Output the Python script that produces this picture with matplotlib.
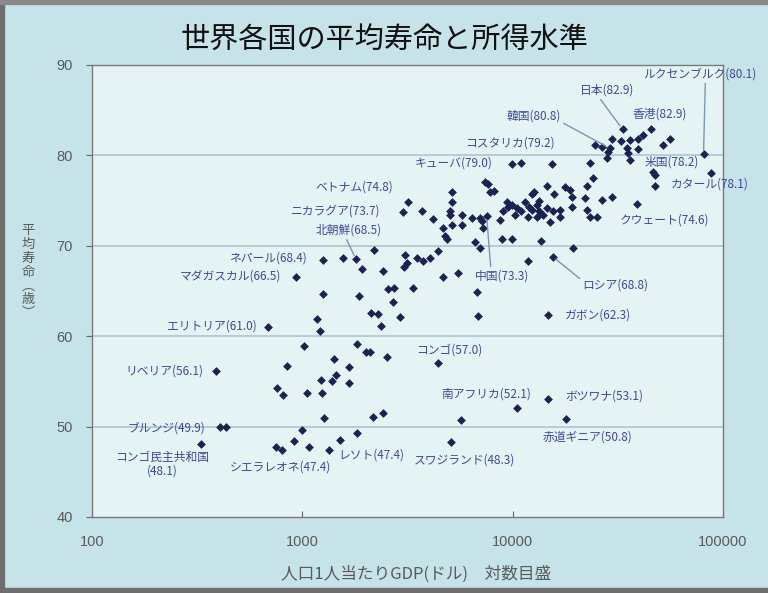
import matplotlib
matplotlib.use("Agg")
import matplotlib.pyplot as plt
from matplotlib.ticker import FixedLocator, FixedFormatter
from matplotlib.patches import Rectangle

plt.rcParams['font.family'] = ['Noto Sans CJK JP', 'DejaVu Sans']

###### Data: GDP per capita (USD) and life expectancy (years) #####
gdp = [33300, 45300, 41500, 29600, 32900, 36000, 39300, 55700, 51600, 24500,
       26500, 28900, 34800, 39300, 35200, 28000, 36000, 28300, 80800, 23200,
       15300, 46300, 47300, 88100, 47300, 24000, 22500, 14500, 17700, 18700,
       15800, 19100, 22000, 26500, 29600, 38800, 13400, 14500, 19100, 22500,
       16700, 23200, 25300, 13900, 15000, 9900, 11000, 7360, 7600, 7780,
       8130, 12700, 12400, 5130, 5130, 3170, 3000, 3700, 4170, 5020,
       5020, 5130, 4650, 4750, 4860, 5730, 5730, 6390, 6970, 7520,
       7120, 7200, 8670, 8960, 9460, 9360, 9890, 10450, 10230, 11000,
       11400, 12000, 12300, 13000, 13400, 13000, 11800, 15500, 16700, 8870,
       9890, 6600, 6970, 13700, 19300, 15500, 11800, 3070, 3130, 3500,
       3730, 4030, 4400, 5480, 4650, 3350, 6740, 6820, 2900, 14800,
       4400, 10450, 14800, 5660, 18000, 5070, 1250, 1560, 1800, 2190,
       3030, 930, 1920, 2410, 1250, 1850, 2550, 2720, 2690, 2120,
       2290, 1170, 1210, 2360, 690, 1020, 1820, 2000, 2090, 2520,
       1410, 850, 1660, 1440, 1380, 1230, 1660, 760, 810, 1050,
       1240, 390, 1270, 2160, 2410, 405, 434, 330, 1000, 1820,
       1510, 910, 750, 800, 1070, 1340]
life = [82.9, 82.9, 82.3, 81.8, 81.6, 81.7, 81.8, 81.8, 81.2, 81.1,
        80.9, 80.8, 80.8, 80.7, 80.3, 79.7, 79.5, 80.4, 80.1, 79.2,
        79.1, 78.2, 77.8, 78.1, 76.6, 77.5, 76.6, 76.6, 76.5, 76.2,
        75.7, 75.4, 75.3, 75.1, 75.4, 74.6, 74.9, 74.2, 74.3, 74.0,
        73.2, 73.2, 73.2, 73.4, 72.6, 79.0, 79.2, 77.1, 76.8, 75.9,
        76.1, 76.0, 75.7, 75.9, 74.8, 74.8, 73.7, 73.9, 73.0, 73.8,
        73.4, 72.3, 72.0, 71.1, 70.8, 73.4, 72.3, 73.1, 73.1, 73.3,
        72.7, 72.0, 72.9, 73.8, 74.3, 74.8, 74.5, 74.2, 73.4, 73.8,
        74.8, 74.3, 74.0, 74.5, 73.8, 73.2, 73.2, 73.8, 74.0, 70.7,
        70.7, 70.4, 69.8, 70.5, 69.8, 68.8, 68.3, 69.0, 68.1, 68.7,
        68.3, 68.7, 69.4, 67.0, 66.6, 65.3, 64.9, 62.2, 62.1, 62.3,
        57.0, 52.1, 53.1, 50.7, 50.8, 48.3, 68.4, 68.7, 68.5, 69.5,
        67.6, 66.5, 67.4, 67.2, 64.7, 64.5, 65.2, 65.3, 63.8, 62.6,
        62.5, 61.9, 60.6, 61.1, 61.0, 58.9, 59.1, 58.2, 58.2, 57.7,
        57.5, 56.7, 56.6, 55.7, 55.0, 55.1, 54.8, 54.3, 53.5, 53.7,
        53.7, 56.1, 51.0, 51.1, 51.5, 49.9, 49.9, 48.1, 49.6, 49.3,
        48.5, 48.4, 47.7, 47.4, 47.7, 47.4]

# labelled countries: name, gdp, life expectancy
label_names = ['ルクセンブルク', '日本', '香港', '韓国', 'コスタリカ', 'キューバ',
               '米国', 'カタール', 'クウェート', 'ベトナム', 'ニカラグア', '北朝鮮',
               'ネパール', 'マダガスカル', 'エリトリア', 'リベリア', 'ブルンジ',
               'コンゴ民主共和国', 'シエラレオネ', 'レソト', 'スワジランド',
               '南アフリカ', 'ボツワナ', '赤道ギニア', 'コンゴ', 'ガボン',
               'ロシア', '中国']
label_gdp = [80800, 33300, 45300, 28900, 11000, 9900, 46300, 88100, 38800, 3170,
             3000, 1800, 1250, 930, 690, 390, 405, 330, 800, 1340, 5070,
             10450, 14800, 18000, 4400, 14800, 15500, 7520]
label_life = [80.1, 82.9, 82.9, 80.8, 79.2, 79.0, 78.2, 78.1, 74.6, 74.8,
              73.7, 68.5, 68.4, 66.5, 61.0, 56.1, 49.9, 48.1, 47.4, 47.4, 48.3,
              52.1, 53.1, 50.8, 57.0, 62.3, 68.8, 73.3]

###### Layout of labels: text centre (data coords), alignment, leader line ######
label_pos = {
    'ルクセンブルク': (144000, 89.0, 'right', (0.55, 0.0)),
    '日本': (28000, 87.2, 'center', (0.35, 0.0)),
    '香港': (49900, 84.6, 'center', None),
    '韓国': (12600, 84.3, 'center', (0.95, 0.2)),
    'コスタリカ': (9680, 81.4, 'center', None),
    'キューバ': (5250, 79.2, 'center', None),
    '米国': (56900, 79.3, 'center', None),
    'カタール': (86300, 76.8, 'center', None),
    'クウェート': (52700, 72.9, 'center', None),
    'ベトナム': (1775, 76.5, 'center', None),
    'ニカラグア': (1443, 73.8, 'center', None),
    '北朝鮮': (1663, 71.7, 'center', (0.45, 0.0)),
    'ネパール': (686, 68.6, 'center', None),
    'マダガスカル': (453, 66.6, 'center', None),
    'エリトリア': (372, 61.1, 'center', None),
    'リベリア': (222, 56.2, 'center', None),
    'ブルンジ': (225, 49.8, 'center', None),
    'コンゴ民主共和国': (215, 45.8, 'center', None),
    'シエラレオネ': (790, 45.5, 'center', None),
    'レソト': (2138, 46.9, 'center', None),
    'スワジランド': (5916, 46.3, 'center', None),
    '南アフリカ': (7450, 53.6, 'center', None),
    'ボツワナ': (27350, 53.4, 'center', None),
    '赤道ギニア': (22700, 48.8, 'center', None),
    'コンゴ': (5020, 58.5, 'center', None),
    'ガボン': (25350, 62.3, 'center', None),
    'ロシア': (30800, 65.7, 'center', (0.0, 0.8)),
    '中国': (8870, 66.7, 'center', (0.3, 1.0)),
}

bg = '#c6e3e9'
plot_bg = '#e6f3f5'
label_col = '#3b4a9e'
mark_col = '#1b2150'
grey = '#5a5a5a'

fig = plt.figure(figsize=(7.68, 5.93), dpi=100, facecolor=bg)
ax = fig.add_axes([0.1198, 0.1282, 0.8216, 0.7622])
ax.set_facecolor(plot_bg)

ax.set_xscale('log')
ax.set_xlim(100, 100000)
ax.set_ylim(40, 90)

for v in [50, 60, 70, 80]:
    ax.axhline(v, color='#a8c8d2', lw=1.2, zorder=1)

ax.scatter(gdp, life, marker='D', s=20, color=mark_col, zorder=3, linewidths=0)

for i in range(len(label_names)):
    name = label_names[i]
    tx, ty, ha, rel = label_pos[name]
    if name == 'コンゴ民主共和国':
        txt = name + '\n(%.1f)' % label_life[i]
    else:
        txt = name + '(%.1f)' % label_life[i]
    kw = {}
    if rel is not None:
        kw['arrowprops'] = dict(arrowstyle='-', color='#7d96b4', lw=1,
                                shrinkA=0, shrinkB=3, relpos=rel)
    ax.annotate(txt, xy=(label_gdp[i], label_life[i]), xytext=(tx, ty),
                textcoords='data', ha=ha, va='center', fontsize=8.5,
                color=label_col, linespacing=1.05, annotation_clip=False,
                zorder=4, **kw)

ax.xaxis.set_major_locator(FixedLocator([100, 1000, 10000, 100000]))
ax.xaxis.set_major_formatter(FixedFormatter(['100', '1000', '10000', '100000']))
ax.xaxis.set_minor_locator(FixedLocator([]))
ax.set_yticks([40, 50, 60, 70, 80, 90])
ax.tick_params(axis='x', direction='in', length=4, pad=13, labelsize=10.5,
               labelcolor=grey, color='#666666')
ax.tick_params(axis='y', direction='out', length=4, pad=10, labelsize=10.5,
               labelcolor=grey, color='#666666')
for lab in ax.get_xticklabels() + ax.get_yticklabels():
    lab.set_fontfamily(['Liberation Sans', 'DejaVu Sans'])
for s in ax.spines.values():
    s.set_color('#7a7a7a')
    s.set_linewidth(1)

fig.text(0.5, 0.931, '世界各国の平均寿命と所得水準', ha='center', va='center',
         fontsize=21, color='#111111')
fig.text(0.542, 0.031, '人口1人当たりGDP(ドル)　対数目盛', ha='center', va='center',
         fontsize=12, color=grey)
fig.text(0.037, 0.541, '\n'.join(['平', '均', '寿', '命', '︵', '歳', '︶']),
         ha='center', va='center', fontsize=9.5, color=grey, linespacing=1.08)

# screenshot frame
fig.patches.append(Rectangle((0, 0), 1, 0.008, transform=fig.transFigure,
                             color='#6e6e6e', zorder=0))
fig.patches.append(Rectangle((0, 0), 0.005, 1, transform=fig.transFigure,
                             color='#6e6e6e', zorder=0))
fig.patches.append(Rectangle((0, 0.994), 1, 0.006, transform=fig.transFigure,
                             color='#8a8a8a', zorder=0))

plt.savefig('out.png', dpi=100, facecolor=bg)
